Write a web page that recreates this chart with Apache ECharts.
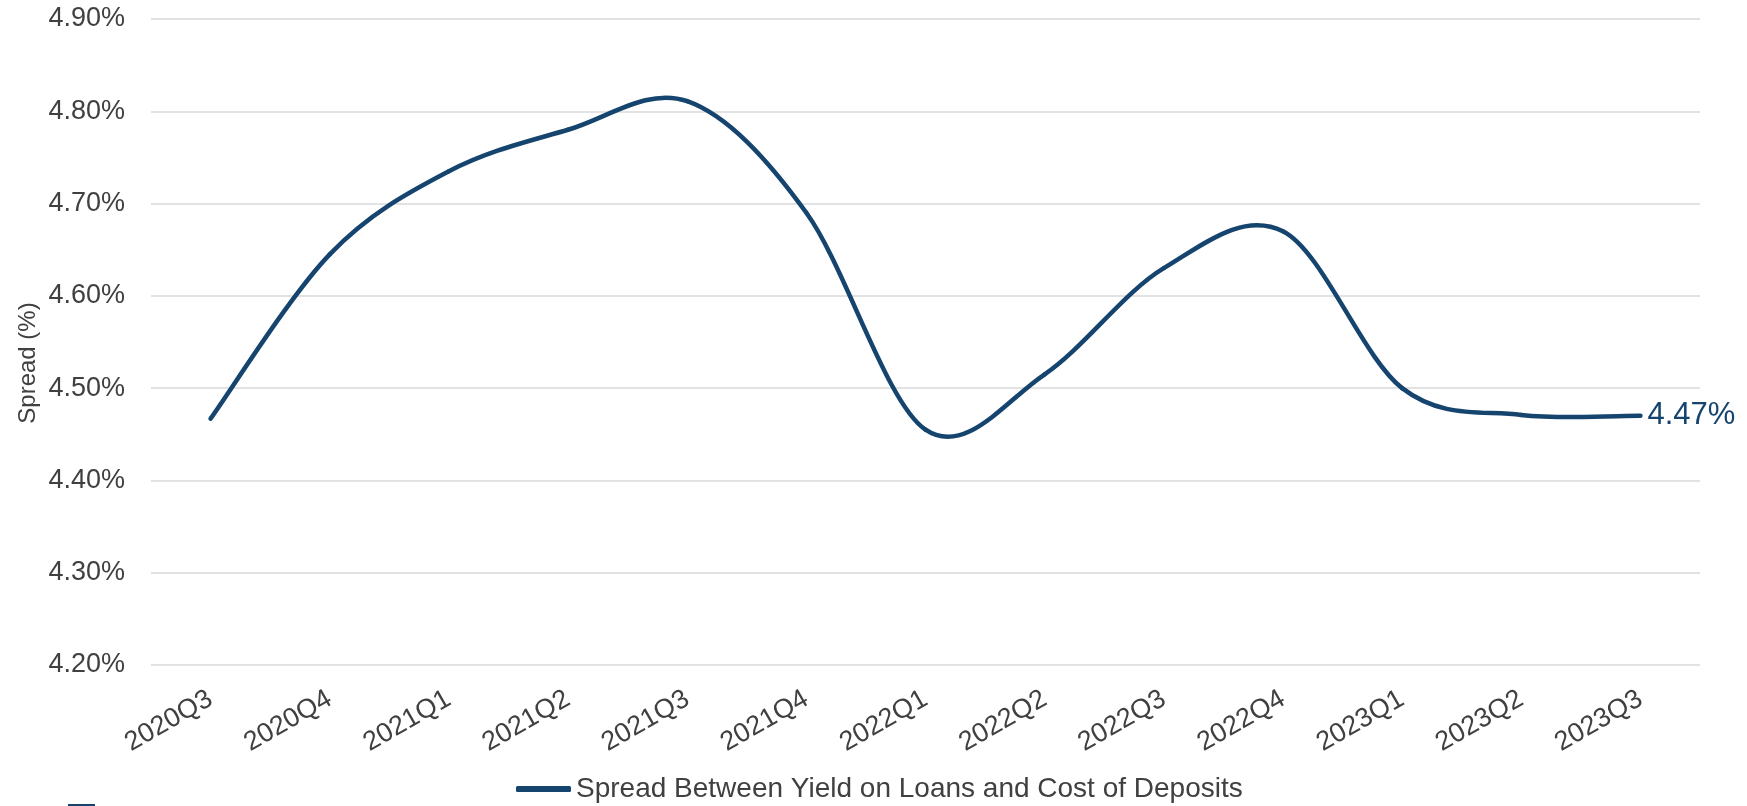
<!DOCTYPE html>
<html>
<head>
<meta charset="utf-8">
<title>Spread Between Yield on Loans and Cost of Deposits</title>
<script src="https://cdn.jsdelivr.net/npm/echarts@6/dist/echarts.min.js"></script>
<style>
  html, body { margin: 0; padding: 0; background: #ffffff; }
  #chart { width: 1747px; height: 806px; }
</style>
</head>
<body>
<div id="chart"></div>
<script>
// Quarterly categories
const categories = ['2020Q3', '2020Q4', '2021Q1', '2021Q2', '2021Q3', '2021Q4', '2022Q1',
                    '2022Q2', '2022Q3', '2022Q4', '2023Q1', '2023Q2', '2023Q3'];

// Spread between yield on loans and cost of deposits, in percent
const spread = [4.467, 4.645, 4.735, 4.78, 4.811, 4.69, 4.455, 4.515, 4.63, 4.67, 4.50, 4.471, 4.47];

// Value axis range and step
const yMin = 4.2;
const yMax = 4.9;
const yStep = 0.1;

const seriesName = 'Spread Between Yield on Loans and Cost of Deposits';
const axisTitle = 'Spread (%)';

const LINE = '#15446f';
const TEXT = '#404040';
const FONT = '"Liberation Sans", Arial, sans-serif';
const LINE_WIDTH = 4.5;

const chart = echarts.init(document.getElementById('chart'), null, { renderer: 'canvas' });

// Each item draws the curve segment from its point to the next one as a cubic
// Bezier whose tangents come from the neighbouring points (Catmull-Rom style).
function renderSegment(params, api) {
  const i = params.dataIndex;
  const n = spread.length;
  const pt = k => api.coord([Math.max(0, Math.min(n - 1, k)), spread[Math.max(0, Math.min(n - 1, k))]]);
  const children = [];
  if (i < n - 1) {
    const p0 = pt(i - 1), p1 = pt(i), p2 = pt(i + 1), p3 = pt(i + 2);
    children.push({
      type: 'bezierCurve',
      shape: {
        x1: p1[0], y1: p1[1],
        x2: p2[0], y2: p2[1],
        cpx1: p1[0] + (p2[0] - p0[0]) / 6,
        cpy1: p1[1] + (p2[1] - p0[1]) / 6,
        cpx2: p2[0] - (p3[0] - p1[0]) / 6,
        cpy2: p2[1] - (p3[1] - p1[1]) / 6
      },
      style: { stroke: LINE, lineWidth: LINE_WIDTH, fill: null, lineCap: 'round', lineJoin: 'round' }
    });
  } else {
    // closing value label after the last point
    const p = pt(i);
    children.push({
      type: 'text',
      x: p[0] + 7,
      y: p[1],
      style: {
        text: spread[i].toFixed(2) + '%',
        fill: LINE,
        font: '31px ' + FONT,
        align: 'left',
        verticalAlign: 'middle'
      }
    });
  }
  return { type: 'group', children: children };
}

chart.setOption({
  animation: false,
  backgroundColor: '#ffffff',
  grid: { left: 151, right: 47, top: 19, bottom: 141, containLabel: false },
  xAxis: {
    type: 'category',
    data: categories,
    boundaryGap: true,
    axisLine: { show: false },
    axisTick: { show: false },
    axisLabel: {
      rotate: 30,
      margin: 32,
      color: TEXT,
      fontSize: 27,
      fontFamily: FONT,
      interval: 0
    },
    splitLine: { show: false }
  },
  yAxis: {
    type: 'value',
    min: yMin,
    max: yMax,
    interval: yStep,
    axisLine: { show: false },
    axisTick: { show: false },
    axisLabel: {
      margin: 26,
      color: TEXT,
      fontSize: 27,
      fontFamily: FONT,
      formatter: v => v.toFixed(2) + '%'
    },
    splitLine: { lineStyle: { color: '#d9d9d9', width: 1.5 } }
  },
  legend: {
    left: 511,
    top: 770,
    itemWidth: 55,
    itemHeight: 6,
    icon: 'roundRect',
    itemGap: 5,
    textStyle: { color: TEXT, fontSize: 28, fontFamily: FONT },
    data: [{ name: seriesName, itemStyle: { color: LINE } }]
  },
  graphic: [
    {
      type: 'text',
      x: 28,
      y: 363,
      rotation: Math.PI / 2,
      style: {
        text: axisTitle,
        fill: TEXT,
        font: '24px ' + FONT,
        align: 'center',
        verticalAlign: 'middle'
      }
    },
    {
      type: 'rect',
      shape: { x: 68, y: 804, width: 27, height: 2 },
      style: { fill: LINE }
    }
  ],
  series: [
    {
      name: seriesName,
      type: 'custom',
      renderItem: renderSegment,
      clip: false,
      itemStyle: { color: LINE },
      encode: { x: 0, y: 1 },
      data: spread.map((v, i) => [i, v])
    }
  ]
});
</script>
</body>
</html>
